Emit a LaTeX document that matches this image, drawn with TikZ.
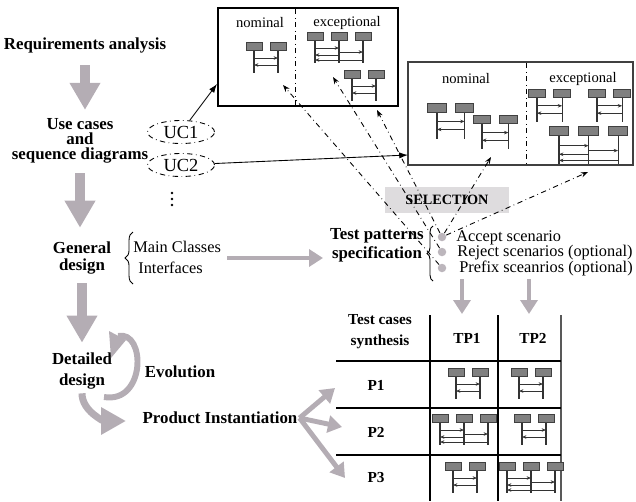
\documentclass[tikz,border=0pt]{standalone}
\usepackage{fontspec}
\setmainfont{Liberation Serif}
\usetikzlibrary{arrows.meta,shapes.geometric,decorations.pathreplacing}
\definecolor{arrowgray}{RGB}{180,173,180}
\definecolor{selgray}{RGB}{222,220,222}
\definecolor{dotgray}{RGB}{188,182,188}
\tikzset{
  stage/.style={font=\fontsize{9.6}{10.5}\selectfont\bfseries, align=center, inner sep=1pt},
  itemtext/.style={font=\fontsize{9.3}{11}\selectfont, inner sep=0pt},
  smalltext/.style={font=\fontsize{8.3}{10}\selectfont, inner sep=0pt},
  cell/.style={font=\fontsize{8.7}{12}\selectfont\bfseries, align=center, inner sep=1pt},
  bigarrow/.style={draw=arrowgray, line width=5.7pt, -{Triangle[length=0.54cm,width=0.58cm]}},
  midarrow/.style={draw=arrowgray, line width=2.8pt, -{Triangle[length=0.28cm,width=0.34cm]}},
  selarrow/.style={dash dot, line width=0.5pt, -{Stealth[length=4pt,width=3pt]}},
  ucarrow/.style={line width=0.5pt, -{Latex[length=5pt,width=3.5pt]}},
  usecase/.style={ellipse, draw, dash dot, line width=0.5pt, minimum width=1.34cm, minimum height=0.46cm, inner sep=0pt, font=\fontsize{10.5}{12}\selectfont},
  objbox/.style={fill=black!50, draw=black!75, line width=0.5pt},
  lifeline/.style={draw=black!80, line width=0.6pt},
  msg/.style={draw=black!80, line width=0.45pt, -{Stealth[length=2.5pt,width=2pt]}},
  pics/seqtwo/.style={code={
    \draw[lifeline] (0,8) -- (0,31) (24,8) -- (24,31);
    \draw[msg] (0,16) -- (24,16);
    \draw[msg] (24,23) -- (0,23);
    \draw[objbox] (-8,0) rectangle (8,8);
    \draw[objbox] (16,0) rectangle (32,8);
  }},
  pics/seqthree/.style={code={
    \draw[lifeline] (0,8) -- (0,31) (24,8) -- (24,31) (48,8) -- (48,31);
    \draw[msg] (0,16) -- (24,16);
    \draw[msg] (24,20) -- (48,20);
    \draw[msg] (24,23) -- (0,23);
    \draw[msg] (48,28) -- (0,28);
    \draw[objbox] (-8,0) rectangle (8,8);
    \draw[objbox] (16,0) rectangle (32,8);
    \draw[objbox] (40,0) rectangle (56,8);
  }}
}
\begin{document}
\begin{tikzpicture}[x=0.02cm, y=-0.02cm]
\useasboundingbox (0,0) rectangle (636,501);

% process stages
\node[stage] (req) at (85,45) {Requirements analysis};
\node[stage, font=\fontsize{9.6}{8.6}\selectfont\bfseries] (uc) at (80,141) {Use cases\\and\\sequence diagrams};
\node[stage, font=\fontsize{9.6}{10.2}\selectfont\bfseries] (gen) at (82,258) {General\\design};
\node[stage, font=\fontsize{9.6}{11.4}\selectfont\bfseries] (det) at (82,371) {Detailed\\design};
\node[stage] (evol) at (180,372) {Evolution};
\node[stage] (prod) at (220,418) {Product Instantiation};

\draw[bigarrow, shorten <=0.21cm, shorten >=0.13cm] (req.south) -- (req.south |- uc.north);
\draw[bigarrow, shorten <=0.15cm, shorten >=0.23cm] (uc.south) -- (uc.south |- gen.north);
\draw[bigarrow, shorten <=0.13cm, shorten >=0.17cm] (gen.south) -- (gen.south |- det.north);

% evolution loop
\coordinate (loopa) at (104,397);
\coordinate (loopb) at (118,336);
\draw[arrowgray, line width=3.4pt] (loopa) .. controls (146,404) and (146,330) .. (loopb);
\fill[arrowgray] (109,331) -- (111,358) -- (126,340) -- cycle;
\coordinate (prodin) at (126,421);
\draw[arrowgray, line width=4pt, -{Triangle[length=0.5cm,width=0.52cm]}, shorten <=0.05cm] (det.south) to[out=-90, in=180] (prodin);

% use cases
\node[usecase] (uc1) at (181,132) {UC1};
\node[usecase] (uc2) at (181,165) {UC2};
\foreach \y in {193,199,205}
  \fill (172,\y) circle (1.4);

% scenario boxes
\node[draw, line width=0.6pt, minimum width=3.6cm, minimum height=1.96cm, inner sep=0pt] (box1) at (308,57) {};
\draw[dash dot, line width=0.5pt] (295,9) -- (295,106);
\node[smalltext] (nom1) at (260,23) {nominal};
\node[smalltext] (exc1) at (347,23) {exceptional};
\pic at (254,42) {seqtwo};
\pic at (315,32) {seqthree};
\pic at (352,70) {seqtwo};

\node[draw=black!75, line width=0.8pt, minimum width=4.5cm, minimum height=2.06cm, inner sep=0pt] (box2) at (520.5,113.5) {};
\draw[dash dot, line width=0.5pt] (526,63) -- (526,164);
\node[smalltext] (nom2) at (466,79) {nominal};
\node[smalltext] (exc2) at (583,79) {exceptional};
\pic[scale=1.15] at (437,103) {seqtwo};
\pic[scale=1.1] at (482,115) {seqtwo};
\pic[scale=1.05] at (537,89) {seqtwo};
\pic[scale=1.05] at (597,89) {seqtwo};
\pic[scale=1.23] at (559,126) {seqthree};

\coordinate (b1in) at (217,84);
\coordinate (b2in) at (408,155);
\draw[ucarrow] (uc1) -- (b1in);
\draw[ucarrow] (uc2) -- (b2in);

% general design
\draw[decorate, decoration={brace, amplitude=4.5pt}, line width=0.5pt] (133,284) -- (133,232);
\node[itemtext, anchor=west] (mainc) at (133,247) {Main Classes};
\node[itemtext, anchor=west] (intf) at (138,268) {Interfaces};

% test patterns
\node[stage, font=\fontsize{9.6}{10.8}\selectfont\bfseries] (tps) at (377,245) {Test patterns\\specification};
\coordinate (gdout) at (227,258);
\coordinate (tpsin) at (323,258);
\draw[midarrow, line width=2.3pt] (gdout) -- (tpsin);
\node[fill=selgray, minimum width=2.48cm, minimum height=0.52cm, inner sep=0pt, font=\fontsize{8.1}{10}\selectfont\bfseries] (sel) at (447,200) {SELECTION};
\draw[decorate, decoration={brace, amplitude=3.4pt}, line width=0.5pt] (433,281) -- (433,226);
\node[circle, fill=dotgray, minimum size=0.17cm, inner sep=0pt] (acc) at (442,237) {};
\node[circle, fill=dotgray, minimum size=0.17cm, inner sep=0pt] (rej) at (442,252) {};
\node[circle, fill=dotgray, minimum size=0.17cm, inner sep=0pt] (pre) at (442,268) {};
\node[itemtext, anchor=west] (acct) at (456,238) {Accept scenario};
\node[itemtext, anchor=west] (rejt) at (457,253) {Reject scenarios (optional)};
\node[itemtext, anchor=west] (pret) at (459,268) {Prefix sceanrios (optional)};

% selection of scenarios
\coordinate (b1a) at (283,85);
\coordinate (b1b) at (333,77);
\coordinate (b1c) at (377,110);
\coordinate (b2a) at (491,157);
\coordinate (b2b) at (588,172);
\draw[selarrow] (pre) -- (b1a);
\draw[selarrow] (rej) -- (b1b);
\draw[selarrow] (acc) -- (b1c);
\draw[selarrow] (acc) -- (b2a);
\draw[selarrow] (acc) -- (b2b);

% test cases table
\draw[line width=0.6pt] (430,315) -- (430,501) (498,315) -- (498,501);
\draw[black!65, line width=1.2pt] (561,315) -- (561,501);
\foreach \y in {361,408,455}
  \draw[line width=0.6pt] (336,\y) -- (561,\y);
\node[cell] (tc) at (380,332) {Test cases\\synthesis};
\node[cell] (tp1) at (467,338) {TP1};
\node[cell] (tp2) at (533,338) {TP2};
\node[cell] (p1) at (376,385) {P1};
\node[cell] (p2) at (376,432) {P2};
\node[cell] (p3) at (376,478) {P3};
\coordinate (tp1a) at (462,279);
\coordinate (tp1b) at (462,314);
\coordinate (tp2a) at (529,279);
\coordinate (tp2b) at (529,314);
\draw[midarrow] (tp1a) -- (tp1b);
\draw[midarrow] (tp2a) -- (tp2b);
\pic at (456,368) {seqtwo};
\pic at (519,368) {seqtwo};
\pic at (440,414) {seqthree};
\pic at (522,414) {seqtwo};
\pic at (453,462) {seqtwo};
\pic at (507,462) {seqthree};

% product instantiation
\coordinate (t1) at (335,388);
\coordinate (t2) at (342,427);
\coordinate (t3) at (345,478);
\foreach \t in {t1,t2,t3}
  \draw[midarrow] (prod.east) -- (\t);
\end{tikzpicture}
\end{document}
